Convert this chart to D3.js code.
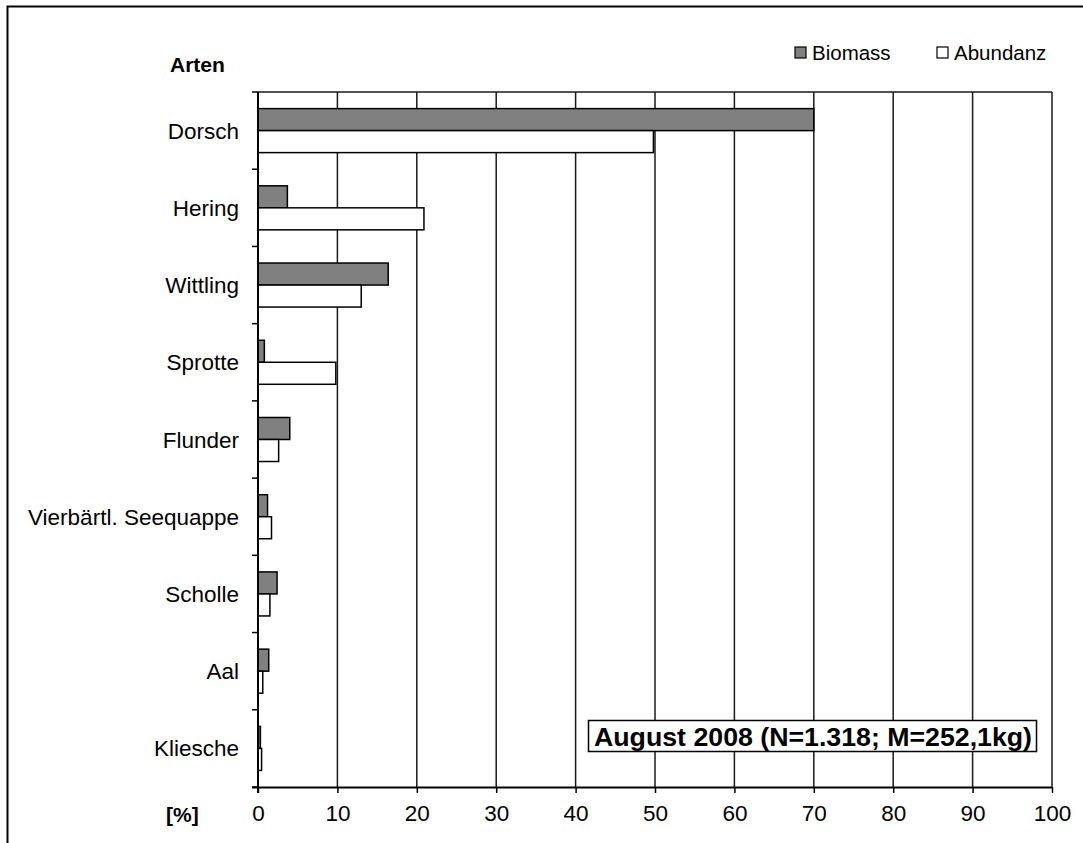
<!DOCTYPE html>
<html>
<head>
<meta charset="utf-8">
<script src="https://cdn.jsdelivr.net/npm/d3@7"></script>
<style>
  html, body { margin: 0; padding: 0; background: #fff; }
  svg { display: block; }
  text { font-family: "Liberation Sans", Arial, sans-serif; fill: #000; }
</style>
</head>
<body>
<svg id="chart" width="1083" height="843"></svg>
<script>
// Species and their share in the catch (percent)
const categories = ["Dorsch", "Hering", "Wittling", "Sprotte", "Flunder",
  "Vierbärtl. Seequappe", "Scholle", "Aal", "Kliesche"];
const biomass  = [70.0, 3.7, 16.4, 0.8, 4.0, 1.2, 2.4, 1.35, 0.3];
const abundanz = [49.8, 20.9, 13.0, 9.8, 2.6, 1.7, 1.5, 0.6, 0.45];
const seriesNames = ["Biomass", "Abundanz"];
const xTicks = [0, 10, 20, 30, 40, 50, 60, 70, 80, 90, 100];
const annotation = "August 2008 (N=1.318; M=252,1kg)";

const svg = d3.select("#chart");

const plot = { left: 258, right: 1052, top: 92, bottom: 787 };

// outer frame (runs past the viewport on the right and bottom)
svg.append("rect")
  .attr("x", 7.5).attr("y", 6.5)
  .attr("width", 1200).attr("height", 1000)
  .attr("fill", "none").attr("stroke", "#000").attr("stroke-width", 2);

const x = d3.scaleLinear().domain([0, 100]).range([plot.left, plot.right]);
const y = d3.scaleBand().domain(categories).range([plot.top, plot.bottom]).padding(0);
const bw = y.bandwidth();
const ySub = d3.scaleBand().domain(seriesNames).range([bw * 0.215, bw * 0.785]).padding(0);

const rows = categories.map((c, i) => ({ cat: c, values: [biomass[i], abundanz[i]] }));
const fills = { Biomass: "#808080", Abundanz: "#ffffff" };

// vertical gridlines
svg.append("g")
  .selectAll("line")
  .data(xTicks.filter(t => t > 0))
  .join("line")
  .attr("x1", d => x(d)).attr("x2", d => x(d))
  .attr("y1", plot.top).attr("y2", plot.bottom)
  .attr("stroke", "#1a1a1a").attr("stroke-width", 1.5);

// top edge of plot area
svg.append("line")
  .attr("x1", plot.left).attr("x2", plot.right)
  .attr("y1", plot.top).attr("y2", plot.top)
  .attr("stroke", "#1a1a1a").attr("stroke-width", 1.5);

// bars
const groups = svg.append("g").selectAll("g")
  .data(rows)
  .join("g")
  .attr("transform", d => `translate(0,${y(d.cat)})`);

groups.selectAll("rect")
  .data(d => d.values.map((v, j) => ({ name: seriesNames[j], value: v })))
  .join("rect")
  .attr("x", x(0))
  .attr("y", d => ySub(d.name))
  .attr("width", d => x(d.value) - x(0))
  .attr("height", ySub.bandwidth())
  .attr("fill", d => fills[d.name])
  .attr("stroke", "#000").attr("stroke-width", 1.5);

// x axis
const xAxis = svg.append("g")
  .attr("transform", `translate(0,${plot.bottom})`)
  .call(d3.axisBottom(x).tickValues(xTicks).tickSize(6).tickPadding(12).tickFormat(d3.format("d")));
xAxis.select(".domain").attr("d", `M${plot.left - 6},0.5H${plot.right}`).attr("stroke", "#000").attr("stroke-width", 2);
xAxis.selectAll(".tick line").attr("stroke", "#000").attr("stroke-width", 1.5);
xAxis.selectAll(".tick text").attr("font-size", 22.5).attr("font-family", "Liberation Sans, Arial, sans-serif");

// y axis: ticks sit between the categories
const yAxisG = svg.append("g").attr("transform", `translate(${plot.left},0)`);
yAxisG.append("line")
  .attr("x1", 0).attr("x2", 0)
  .attr("y1", plot.top).attr("y2", plot.bottom + 6)
  .attr("stroke", "#000").attr("stroke-width", 2);
const boundaries = categories.map(c => y(c)).concat([plot.bottom]);
yAxisG.selectAll("line.cat-tick")
  .data(boundaries)
  .join("line")
  .attr("class", "cat-tick")
  .attr("x1", -6).attr("x2", 0)
  .attr("y1", d => d).attr("y2", d => d)
  .attr("stroke", "#000").attr("stroke-width", 1.5);
yAxisG.selectAll("text")
  .data(categories)
  .join("text")
  .attr("x", -19)
  .attr("y", d => y(d) + bw / 2)
  .attr("dy", "0.36em")
  .attr("text-anchor", "end")
  .attr("font-size", 22.5)
  .text(d => d);

// axis captions
svg.append("text").attr("x", 170).attr("y", 72)
  .attr("font-size", 21).attr("font-weight", "bold").text("Arten");
svg.append("text").attr("x", 166).attr("y", 822)
  .attr("font-size", 21).attr("font-weight", "bold").text("[%]");

// legend
const legend = svg.append("g");
const legendItems = [
  { name: "Biomass", sx: 795 },
  { name: "Abundanz", sx: 937 }
];
legend.selectAll("rect")
  .data(legendItems)
  .join("rect")
  .attr("x", d => d.sx).attr("y", 47)
  .attr("width", 11).attr("height", 11)
  .attr("fill", d => fills[d.name])
  .attr("stroke", "#000").attr("stroke-width", 1.2);
legend.selectAll("text")
  .data(legendItems)
  .join("text")
  .attr("x", d => d.sx + 17).attr("y", 59.5)
  .attr("font-size", 20.5)
  .text(d => d.name);

// sampling annotation
const box = svg.append("g");
box.append("rect")
  .attr("x", 588.5).attr("y", 720.5)
  .attr("width", 448).attr("height", 31)
  .attr("fill", "#fff").attr("stroke", "#000").attr("stroke-width", 1.5);
box.append("text")
  .attr("x", 594).attr("y", 746)
  .attr("font-size", 25).attr("font-weight", "bold")
  .attr("textLength", 438).attr("lengthAdjust", "spacingAndGlyphs")
  .text(annotation);
</script>
</body>
</html>
